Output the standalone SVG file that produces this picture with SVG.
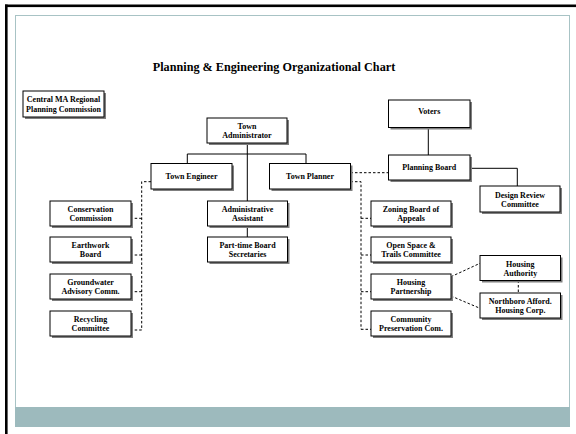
<svg xmlns="http://www.w3.org/2000/svg" width="576" height="434" viewBox="0 0 576 434">
<defs>
<style>
.box rect.b{fill:#ffffff;stroke:#000000;stroke-width:1}
.box rect.s{fill:#7f7f7f}
.box text{font-family:"Liberation Serif","Times New Roman",serif;font-weight:bold;font-size:8px;fill:#000;text-anchor:middle}
.title{font-family:"Liberation Serif","Times New Roman",serif;font-weight:bold;font-size:12.2px;fill:#000;text-anchor:middle}
#connectors .solid{fill:none;stroke:#000;stroke-width:1}
#connectors .dash{fill:none;stroke:#000;stroke-width:1;stroke-dasharray:2.5,2}
</style>
</defs>
<rect x="0" y="0" width="576" height="434" fill="#ffffff"/>
<!-- frame -->
<rect x="5" y="4.5" width="571" height="2.6" fill="#000"/>
<rect x="5" y="4.5" width="2.6" height="429.5" fill="#000"/>
<rect x="15.5" y="15.5" width="554" height="411" fill="none" stroke="#a8c3c5" stroke-width="1"/>
<rect x="15" y="407" width="555" height="20" fill="#9dbabd"/>
<text class="title" x="274" y="70.5">Planning &amp; Engineering Organizational Chart</text>

<g id="connectors">
<path class="solid" d="M247.3,143 V201 M187.3,163.5 V154 H306 V163.5 M247.3,226 V237 M428.3,127.5 V155 M470,168.3 H517.3 V186"/>
<path class="dash" d="M151,181.7 H141.7 V330 M141.7,218.3 H131 M141.7,255 H131 M141.7,291.7 H131 M141.7,330 H131"/>
<path class="dash" d="M350.5,172.7 H388.5"/>
<path class="dash" d="M350.5,181.7 H361 V329.3 M361,218.3 H371 M361,255 H371 M361,291.7 H371 M361,329.3 H371"/>
<path class="dash" d="M451,276.7 L480,263.3 M451,296 L480,308.3 M518.3,280.5 V293"/>
</g>

<g id="cmrpc" class="box"><rect class="s" x="25" y="93" width="81" height="26"/><rect class="b" x="23" y="91" width="81" height="26"/><text x="63.5" y="102">Central MA Regional</text><text x="63.5" y="111.5">Planning Commission</text></g>
<g id="town-admin" class="box"><rect class="s" x="209" y="120" width="80" height="25"/><rect class="b" x="207" y="118" width="80" height="25"/><text x="247" y="129.3">Town</text><text x="247" y="138.3">Administrator</text></g>
<g id="town-engineer" class="box"><rect class="s" x="153" y="165.5" width="81" height="25.5"/><rect class="b" x="151" y="163.5" width="81" height="25.5"/><text x="191.5" y="179">Town Engineer</text></g>
<g id="town-planner" class="box"><rect class="s" x="271.5" y="165.5" width="81" height="25.5"/><rect class="b" x="269.5" y="163.5" width="81" height="25.5"/><text x="310" y="179">Town Planner</text></g>
<g id="admin-assistant" class="box"><rect class="s" x="209.5" y="203" width="80" height="25"/><rect class="b" x="207.5" y="201" width="80" height="25"/><text x="247.5" y="212">Administrative</text><text x="247.5" y="221">Assistant</text></g>
<g id="part-time" class="box"><rect class="s" x="209.5" y="239" width="80" height="25"/><rect class="b" x="207.5" y="237" width="80" height="25"/><text x="247.5" y="248">Part-time Board</text><text x="247.5" y="257">Secretaries</text></g>
<g id="conservation" class="box"><rect class="s" x="52" y="203" width="81" height="25"/><rect class="b" x="50" y="201" width="81" height="25"/><text x="90.5" y="212">Conservation</text><text x="90.5" y="221">Commission</text></g>
<g id="earthwork" class="box"><rect class="s" x="52" y="239" width="81" height="25"/><rect class="b" x="50" y="237" width="81" height="25"/><text x="90.5" y="248">Earthwork</text><text x="90.5" y="257">Board</text></g>
<g id="groundwater" class="box"><rect class="s" x="52" y="276" width="81" height="25"/><rect class="b" x="50" y="274" width="81" height="25"/><text x="90.5" y="285">Groundwater</text><text x="90.5" y="294">Advisory Comm.</text></g>
<g id="recycling" class="box"><rect class="s" x="52" y="313" width="81" height="25"/><rect class="b" x="50" y="311" width="81" height="25"/><text x="90.5" y="322">Recycling</text><text x="90.5" y="331">Committee</text></g>
<g id="voters" class="box"><rect class="s" x="390.5" y="102" width="81.5" height="27.5"/><rect class="b" x="388.5" y="100" width="81.5" height="27.5"/><text x="429.3" y="114">Voters</text></g>
<g id="planning-board" class="box"><rect class="s" x="390.5" y="157" width="81.5" height="25"/><rect class="b" x="388.5" y="155" width="81.5" height="25"/><text x="429.3" y="170">Planning Board</text></g>
<g id="design-review" class="box"><rect class="s" x="482" y="188" width="80" height="26"/><rect class="b" x="480" y="186" width="80" height="26"/><text x="520" y="197.5">Design Review</text><text x="520" y="206.5">Committee</text></g>
<g id="zoning" class="box"><rect class="s" x="373" y="203" width="80" height="25"/><rect class="b" x="371" y="201" width="80" height="25"/><text x="411" y="212">Zoning Board of</text><text x="411" y="221">Appeals</text></g>
<g id="open-space" class="box"><rect class="s" x="373" y="239" width="80" height="25"/><rect class="b" x="371" y="237" width="80" height="25"/><text x="411" y="248">Open Space &amp;</text><text x="411" y="257">Trails Committee</text></g>
<g id="housing-partnership" class="box"><rect class="s" x="373" y="276" width="80" height="25"/><rect class="b" x="371" y="274" width="80" height="25"/><text x="411" y="285">Housing</text><text x="411" y="294">Partnership</text></g>
<g id="community" class="box"><rect class="s" x="373" y="313" width="80" height="25"/><rect class="b" x="371" y="311" width="80" height="25"/><text x="411" y="322">Community</text><text x="411" y="331">Preservation Com.</text></g>
<g id="housing-authority" class="box"><rect class="s" x="482" y="257.5" width="80.5" height="25"/><rect class="b" x="480" y="255.5" width="80.5" height="25"/><text x="520.3" y="266.5">Housing</text><text x="520.3" y="275.5">Authority</text></g>
<g id="northboro" class="box"><rect class="s" x="482" y="295" width="80.5" height="25"/><rect class="b" x="480" y="293" width="80.5" height="25"/><text x="520.3" y="304">Northboro Afford.</text><text x="520.3" y="313">Housing Corp.</text></g>
</svg>
